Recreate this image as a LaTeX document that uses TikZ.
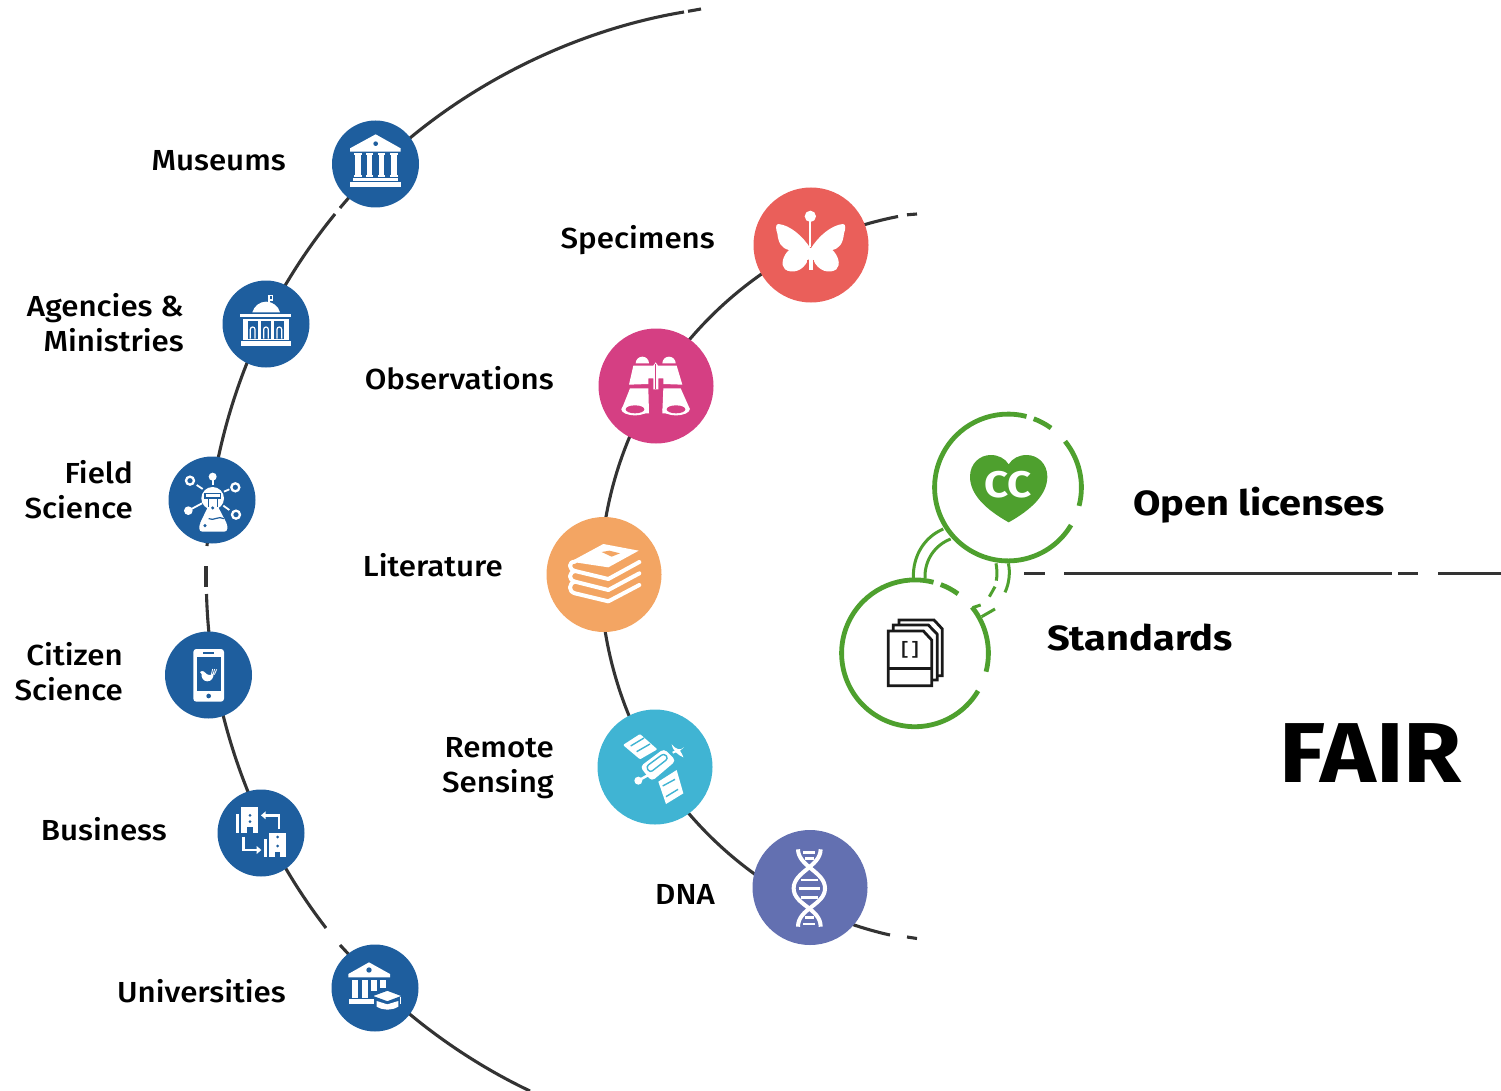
\documentclass[tikz,border=0pt]{standalone}
\usepackage{fontspec}
\usetikzlibrary{backgrounds}
\setmainfont{Fira Sans Medium}[FakeStretch=1.08]
\newfontfamily\heavyfont{Fira Sans}[FakeStretch=1.135,UprightFont=*-Bold]
\newfontfamily\fairfont{Fira Sans}[FakeStretch=1.11,UprightFont=*-Bold]
\newfontfamily\monofont{Liberation Mono}[UprightFont=* Bold]
\definecolor{nblue}{HTML}{1E5E9E}
\definecolor{nred}{HTML}{EA5F5A}
\definecolor{npink}{HTML}{D53F83}
\definecolor{norange}{HTML}{F3A563}
\definecolor{ncyan}{HTML}{40B4D3}
\definecolor{npurple}{HTML}{6370B1}
\definecolor{ngreen}{HTML}{4EA02E}
\definecolor{dline}{HTML}{333333}
\tikzset{
 hub/.style={circle,inner sep=0pt,minimum size=87pt,fill=nblue},
 bighub/.style={circle,inner sep=0pt,minimum size=115pt},
 ring/.style={circle,inner sep=0pt,minimum size=146pt},
 arcline/.style={draw=dline,line width=3.1pt,looseness=.85},
 gline/.style={draw=ngreen,line width=4.8pt},
 glink/.style={draw=ngreen,line width=3pt},
 lab/.style={inner sep=0pt,anchor=base east,font=\fontsize{29}{35}\selectfont,text=black},
 mlab/.style={inner sep=0pt,anchor=east,align=right,font=\fontsize{29}{35}\selectfont,text=black},
 za/.style={shift={(150,110)},x=.33333pt,y=-.33333pt},
 zb/.style={shift={(150,620)},x=.33333pt,y=-.33333pt},
 zc/.style={shift={(590,180)},x=.33333pt,y=-.33333pt},
 zd/.style={shift={(540,510)},x=.33333pt,y=-.33333pt},
 ze/.style={shift={(830,405)},x=.33333pt,y=-.33333pt},
}
\begin{document}
\begin{tikzpicture}[x=1pt,y=-1pt]
\useasboundingbox (0,0) rectangle (1501,1091);
% hubs
\node[hub] (mus) at (375.5,164) {};
\node[hub] (age) at (266,324) {};
\node[hub] (fie) at (212,500) {};
\node[hub] (cit) at (208.5,675) {};
\node[hub] (bus) at (261,833) {};
\node[hub] (uni) at (375,988) {};
\node[bighub,fill=nred] (spe) at (811,245) {};
\node[bighub,fill=npink] (obs) at (656,386) {};
\node[bighub,fill=norange] (lit) at (604,574.5) {};
\node[bighub,fill=ncyan] (rem) at (655,767) {};
\node[bighub,fill=npurple] (dna) at (810,887.5) {};
\node[ring] (lic) at (1008,487.5) {};
\node[ring] (std) at (915,653.3) {};
% free ends
\coordinate (ot1) at (684,12);
\coordinate (ot2) at (688,11.3);
\coordinate (ot3) at (701,9);
\coordinate (og1) at (340,208);
\coordinate (og2) at (335,214);
\coordinate (of1) at (207,546);
\coordinate (of2) at (206,566);
\coordinate (of3) at (206,587);
\coordinate (of4) at (206.5,594);
\coordinate (ob1) at (326,928);
\coordinate (ob2) at (340,945);
\coordinate (oe) at (530,1091);
\coordinate (it1) at (898,216.5);
\coordinate (it2) at (907,214.8);
\coordinate (it3) at (917,214);
\coordinate (ib1) at (890,935);
\coordinate (ib2) at (907,937);
\coordinate (ib3) at (917,938.5);
\coordinate (h1) at (1024,573.5);
\coordinate (h2) at (1045,573.5);
\coordinate (h3) at (1064,573.5);
\coordinate (h4) at (1392,573.5);
\coordinate (h5) at (1398,573.5);
\coordinate (h6) at (1418,573.5);
\coordinate (h7) at (1438,573.5);
\coordinate (h8) at (1501,573.5);
\begin{scope}[on background layer]
% outer arc
\path[arcline] (ot1) to[bend right=17.4] ([shift={(2.6,2.6)}]mus.center);
\path[arcline] (ot2) -- (ot3);
\path[arcline] ([shift={(2.6,2.6)}]mus.center) to[bend right=2.8] (og1);
\path[arcline] (og2) to[bend right=6.5] ([shift={(-1.4,-.7)}]age.center);
\path[arcline] ([shift={(-1.4,-.7)}]age.center) to[bend right=9.25] ([shift={(-1,-.1)}]fie.center);
\path[arcline] ([shift={(-1,-.1)}]fie.center) -- (of1);
\path[arcline] (of2) -- (of3);
\path[arcline] (of4) to[bend right=4] ([shift={(5.9,-1)}]cit.center);
\path[arcline] ([shift={(5.9,-1)}]cit.center) to[bend right=8.25] ([shift={(4.5,-2.2)}]bus.center);
\path[arcline] ([shift={(4.5,-2.2)}]bus.center) to[bend right=5.75] (ob1);
\path[arcline] (ob2) -- ([shift={(2.6,-2.6)}]uni.center);
\path[arcline] ([shift={(2.6,-2.6)}]uni.center) to[bend right=9.3] (oe);
% inner arc
\path[arcline] (it1) to[bend right=7.2] (spe.center);
\path[arcline] (it2) -- (it3);
\path[arcline] (spe.center) to[bend right=16.65] (obs.center);
\path[arcline] (obs.center) to[bend right=15.75] ([shift={(-3.5,0)}]lit.center);
\path[arcline] ([shift={(-3.5,0)}]lit.center) to[bend right=15.75] (rem.center);
\path[arcline] (rem.center) to[bend right=15.9] ([shift={(-8,15.5)}]dna.center);
\path[arcline] ([shift={(-8,15.5)}]dna.center) to[bend right=7.35] (ib1);
\path[arcline] (ib2) -- (ib3);
% axis
\path[arcline] (h1) -- (h2);
\path[arcline] (h3) -- (h4);
\path[arcline] (h5) -- (h6);
\path[arcline] (h7) -- (h8);
\end{scope}
% green rings
\foreach \n in {lic,std}{
 \draw[gline] ([shift={(30.8:73.4)}]\n.center) arc[start angle=30.8,end angle=284.6,radius=73.4];
 \draw[gline] ([shift={(-69.5:73.4)}]\n.center) arc[start angle=-69.5,end angle=-54.1,radius=73.4];
 \draw[gline] ([shift={(-39:73.4)}]\n.center) arc[start angle=-39,end angle=14.5,radius=73.4];
}
% links between rings
\begin{scope}[ze]
\draw[glink] (340,372) .. controls (285,395) and (248,450) .. (250,520);
\draw[glink] (362,402) .. controls (315,420) and (283,465) .. (285,520);
\draw[glink] (498,475) .. controls (501,490) and (502,510) .. (499,527);
\draw[glink] (495,545) -- (478,575);
\draw[glink] (452,600) -- (428,608);
\draw[glink] (535,475) .. controls (541,500) and (538,535) .. (525,562);
\draw[glink] (495,612) -- (455,635);
% heart
\fill[ngreen] (536,352) .. controls (470,315) and (420,270) .. (420,215) .. controls (420,175) and (450,150) .. (482,150) .. controls (505,150) and (525,160) .. (536,178) .. controls (547,160) and (567,150) .. (590,150) .. controls (622,150) and (652,175) .. (652,215) .. controls (652,270) and (602,315) .. (536,352) -- cycle;
\node[text=white,inner sep=0pt,font=\heavyfont\fontsize{37}{37}\selectfont] (cc) at (535,238) {CC};
% standards icon
\begin{scope}[line width=2.8pt,line join=miter]
\draw[black!90] (175,678) -- (280,678) -- (305,705) -- (305,842) -- (175,842) -- cycle;
\draw[black!90] (175,790) -- (305,790);
\draw[black!90] (190,676) -- (190,660) -- (295,660) -- (322,688) -- (322,825) -- (305,825);
\draw[black!90] (207,658) -- (207,645) -- (312,645) -- (337,672) -- (337,812) -- (322,812);
\end{scope}
\node[inner sep=0pt,text=black!90,font=\monofont\fontsize{18}{18}\selectfont] (brk) at (240,736) {[]};
\end{scope}
% labels
\node[lab] (lmus) at (286,170.5) {Museums};
\node[mlab] (lage) at (184,322.5) {Agencies \&\\Ministries};
\node[mlab] (lfie) at (133,489.5) {Field\\Science};
\node[mlab] (lcit) at (123,671.5) {Citizen\\Science};
\node[lab] (lbus) at (167,840) {Business};
\node[lab] (luni) at (286,1002) {Universities};
\node[lab] (lspe) at (715,249) {Specimens};
\node[lab] (lobs) at (554,389) {Observations};
\node[lab] (llit) at (503,576) {Literature};
\node[mlab] (lrem) at (554,768.5) {Remote\\Sensing};
\node[lab] (ldna) at (715,904) {DNA};
\node[inner sep=0pt,anchor=base west,font=\heavyfont\fontsize{35}{35}\selectfont] (llic) at (1133,515) {Open licenses};
\node[inner sep=0pt,anchor=base west,font=\heavyfont\fontsize{35}{35}\selectfont] (lsta) at (1047,650) {Standards};
\node[inner sep=0pt,anchor=base west,font=\fairfont\fontsize{85}{85}\selectfont] (lfair) at (1279,782) {FAIR};
% museum icon
\begin{scope}[za]
\fill[white] (677,73) -- (752,115) -- (752,125) -- (600,125) -- (600,115) -- cycle;
\fill[nblue] (677,101) circle[radius=7];
\foreach \x in {613,648,684,721}{\fill[white] (\x,129) rectangle ++(22,7); \fill[white] (\x+3,136) rectangle ++(16,60); \fill[white] (\x,196) rectangle ++(22,6);}
\fill[white] (610,205) rectangle (745,214);
\fill[white] (601,217) rectangle (753,232);
% agencies icon
\draw[white,line width=1.2pt] (357,580) -- (357,556) -- (368,556) -- (368,570) -- (357,570);
\fill[white] (307,607) .. controls (312,588) and (330,575) .. (348,575) .. controls (368,575) and (385,588) .. (390,607) -- cycle;
\fill[white] (270,612) rectangle (424,622);
\fill[white] (278,626) rectangle (416,690);
\foreach \x in {293,333,373}{\fill[nblue] (\x,634) rectangle ++(30,52);
 \draw[white,line width=1.2pt] (\x+8,686) -- (\x+8,658) arc[start angle=180,end angle=360,radius=7] -- (\x+22,686);}
\fill[white] (272,693) rectangle (424,708);
% field science icon
\draw[white,line width=2.3pt] (120,1112) circle[radius=12];
\draw[white,line width=2.3pt] (256,1132) circle[radius=12];
\draw[white,line width=2.3pt] (258,1214) circle[radius=12];
\fill[white] (188,1100) circle[radius=12];
\fill[white] (115,1202) circle[radius=13];
\draw[white,line width=1.8pt] (188,1100) -- (188,1124);
\draw[white,line width=1.8pt] (115,1202) -- (156,1180);
\draw[white,line width=1.8pt] (140,1125) -- (158,1137);
\draw[white,line width=1.8pt] (222,1145) -- (238,1138);
\draw[white,line width=1.8pt] (220,1187) -- (238,1200);
\fill[white] (188,1165) circle[radius=34];
\fill[white] (174,1164) -- (174,1190) -- (150,1240) -- (230,1240) -- (204,1190) -- (204,1164) -- cycle;
\fill[white,rounded corners=3pt] (148,1265) -- (148,1240) -- (172,1225) -- (210,1225) -- (232,1240) -- (232,1265) -- cycle;
\fill[nblue] (163,1148) rectangle (214,1166);
\fill[white] (168,1152) rectangle (209,1161);
\draw[nblue,line width=1pt] (176,1166) -- (176,1192);
\draw[nblue,line width=1pt] (202,1166) -- (202,1192);
\draw[nblue,line width=1.2pt] (176,1226) .. controls (192,1234) and (205,1216) .. (222,1226);
\fill[nblue] (188,1194) circle[radius=5];
\fill[nblue] (165,1247) circle[radius=5];
\end{scope}
% phone, business, university icons
\begin{scope}[zb]
\fill[white,rounded corners=3pt] (130,87) rectangle (222,245);
\fill[nblue] (140,112) rectangle (212,212);
\fill[nblue] (160,97) rectangle (192,102);
\fill[nblue] (176,228) circle[radius=7];
\fill[white] (150,156) .. controls (158,150) and (165,155) .. (170,162) .. controls (178,168) and (186,164) .. (190,160) .. controls (192,172) and (185,184) .. (172,184) .. controls (160,184) and (153,172) .. (155,162) -- cycle;
\draw[white,line width=.8pt] (184,164) -- (188,147) (189,164) -- (194,147) (193,164) -- (200,148);
% business
\fill[white] (258,582) rectangle (268,638);
\fill[white] (272,562) rectangle (325,638);
\fill[nblue] (292,622) rectangle (308,638);
\fill[nblue] (300,586) circle[radius=4.5];
\fill[nblue] (300,605) circle[radius=4.5];
\fill[white] (343,658) rectangle (352,712);
\fill[white] (358,638) rectangle (408,712);
\fill[nblue] (375,697) rectangle (391,712);
\fill[nblue] (383,651) circle[radius=4.5];
\fill[nblue] (383,678) circle[radius=4.5];
\draw[white,line width=2.5pt] (387,628) -- (387,586) -- (345,586);
\fill[white] (333,586) -- (347,574) -- (347,598) -- cycle;
\draw[white,line width=2.5pt] (281,650) -- (281,690) -- (322,690);
\fill[white] (334,690) -- (320,678) -- (320,702) -- cycle;
% university
\fill[white] (657,1027) -- (720,1062) -- (720,1072) -- (595,1072) -- (595,1062) -- cycle;
\fill[nblue] (657,1050) circle[radius=8];
\fill[white] (605,1080) rectangle (625,1135);
\fill[white] (635,1080) rectangle (655,1135);
\fill[white] (663,1080) rectangle (681,1112);
\fill[white] (690,1080) rectangle (708,1105);
\fill[white] (597,1138) rectangle (672,1153);
\draw[nblue,line width=1.5pt,fill=white] (663,1128) -- (712,1110) -- (760,1128) -- (712,1146) -- cycle;
\fill[white] (680,1143) -- (712,1153) -- (745,1143) -- (745,1160) .. controls (725,1172) and (700,1172) .. (680,1160) -- cycle;
\draw[white,line width=1pt] (752,1130) -- (752,1152);
\end{scope}
% butterfly, binoculars
\begin{scope}[zc]
\fill[white] (661,109) circle[radius=17];
\draw[white,line width=2pt] (661,120) -- (661,200);
\fill[white] (661,205) .. controls (640,170) and (600,135) .. (565,132) .. controls (555,132) and (558,150) .. (562,160) .. controls (565,190) and (575,205) .. (597,210) .. controls (580,225) and (570,255) .. (585,268) .. controls (605,282) and (640,275) .. (655,238) -- (661,240) -- cycle;
\fill[white] (663,205) .. controls (684,170) and (724,135) .. (759,132) .. controls (769,132) and (766,150) .. (762,160) .. controls (759,190) and (749,205) .. (727,210) .. controls (744,225) and (754,255) .. (739,268) .. controls (719,282) and (684,275) .. (669,238) -- (663,240) -- cycle;
\fill[white] (656,205) rectangle (668,270);
\draw[nred,line width=.8pt] (653,240) -- (653,272) (671,240) -- (671,272);
% binoculars
\fill[white] (137,550) arc[start angle=180,end angle=360,radius=20] -- cycle;
\fill[white] (217,550) arc[start angle=180,end angle=360,radius=20] -- cycle;
\fill[white] (130,557) -- (190,557) -- (197,547) -- (204,557) -- (260,557) -- (277,614) -- (220,612) -- (220,595) -- (205,595) -- (205,628) -- (190,628) -- (190,595) -- (175,595) -- (175,612) -- (117,614) -- cycle;
\draw[npink,line width=.8pt] (197,552) -- (197,626);
\fill[white] (120,625) -- (175,625) -- (177,700) -- (135,700) -- (95,688) -- cycle;
\fill[white] (220,625) -- (272,625) -- (300,688) -- (258,700) -- (217,700) -- cycle;
\fill[white] (135,688) ellipse[x radius=41,y radius=18];
\fill[white] (258,688) ellipse[x radius=41,y radius=18];
\fill[npink] (135,688) ellipse[x radius=28,y radius=12];
\fill[npink] (258,688) ellipse[x radius=28,y radius=12];
\end{scope}
% books, satellite, DNA
\begin{scope}[zd]
\fill[white] (92,155) -- (190,102) -- (296,122) -- (205,172) -- cycle;
\fill[norange] (185,126) -- (208,122) -- (240,130) -- (215,140) -- cycle;
\begin{scope}[line width=4pt,line cap=round,line join=round]
\draw[white] (298,156) -- (205,207) -- (105,183) .. controls (85,178) and (85,155) .. (105,155);
\draw[white] (298,190) -- (205,240) -- (105,215) .. controls (85,210) and (85,188) .. (105,183);
\draw[white] (298,225) -- (205,274) -- (105,250) .. controls (85,245) and (85,220) .. (105,215);
\end{scope}
% satellite
\fill[white,rounded corners=1pt] (249,705) -- (300,672) -- (352,718) -- (300,748) -- cycle;
\draw[ncyan,line width=1.4pt] (272,708) -- (312,684) (290,725) -- (330,702);
\fill[white,rounded corners=4pt] (300,770) -- (372,716) -- (408,752) -- (335,814) -- cycle;
\draw[ncyan,line width=1.4pt,rounded corners=3pt] (318,770) -- (372,730) -- (385,745) -- (330,788) -- cycle;
\fill[white] (295,812) circle[radius=12];
\draw[white,line width=2.5pt] (295,812) -- (325,795);
\fill[white] (355,815) -- (410,780) -- (430,850) -- (378,882) -- cycle;
\draw[ncyan,line width=1.4pt] (368,828) -- (405,808) (378,860) -- (414,838);
\draw[white,line width=2pt] (398,728) -- (412,722);
\fill[white] (395,703) .. controls (410,720) and (420,722) .. (432,712) -- (420,722) .. controls (425,730) and (428,735) .. (430,742) .. controls (415,735) and (400,725) .. (395,703) -- cycle;
% DNA
\begin{scope}[line width=4pt]
\draw[white] (774,1018) .. controls (775,1070) and (855,1085) .. (855,1135) .. controls (855,1185) and (774,1195) .. (774,1250);
\draw[white] (842,1018) .. controls (841,1070) and (761,1085) .. (761,1135) .. controls (761,1185) and (842,1195) .. (842,1250);
\end{scope}
\begin{scope}[line width=2.6pt]
\draw[white] (790,1028) -- (826,1028);
\draw[white] (795,1045) -- (821,1045);
\draw[white] (782,1110) -- (834,1110);
\draw[white] (776,1135) -- (840,1135);
\draw[white] (782,1162) -- (834,1162);
\draw[white] (795,1222) -- (821,1222);
\draw[white] (790,1242) -- (826,1242);
\end{scope}
\end{scope}
\end{tikzpicture}
\end{document}
